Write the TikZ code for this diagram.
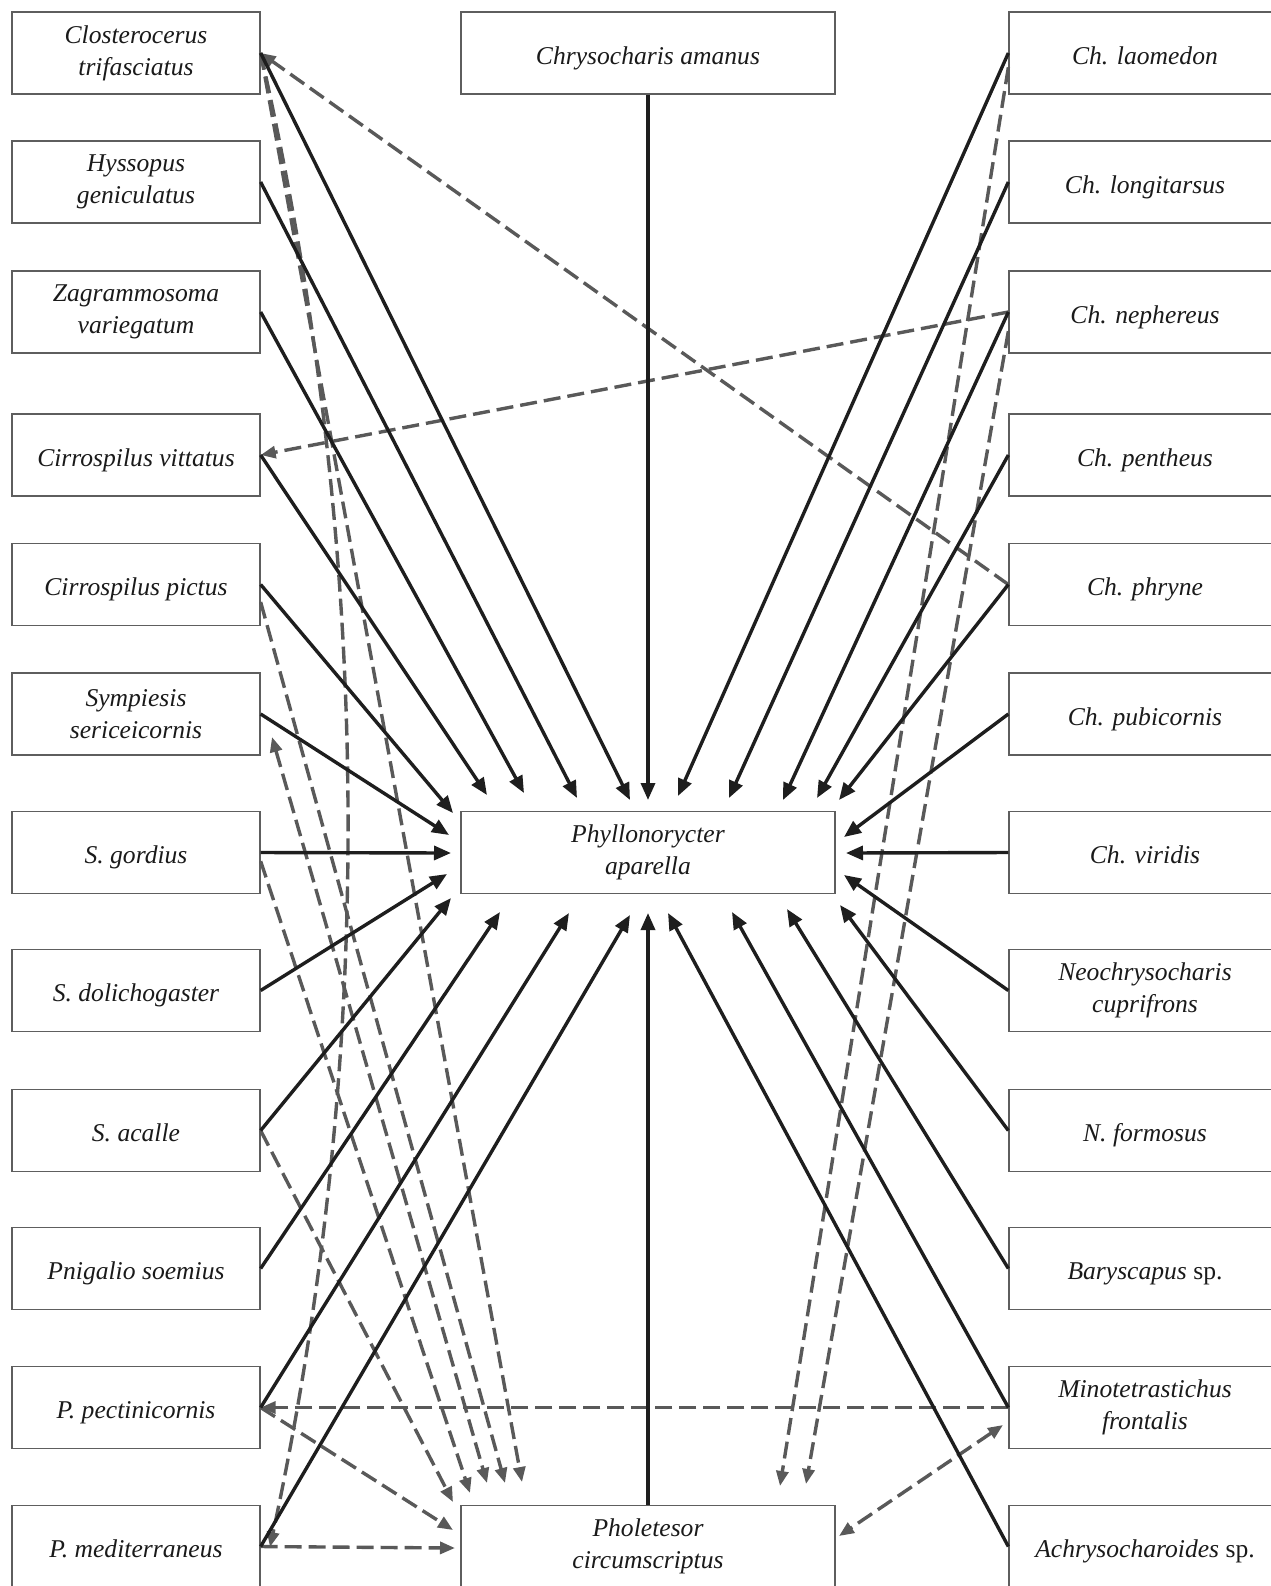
\documentclass[tikz,border=0pt]{standalone}
\usepackage{fontspec}
\setmainfont{Liberation Serif}
\usetikzlibrary{arrows.meta}

\definecolor{boxline}{HTML}{5E5E5E}
\definecolor{hostline}{HTML}{1E1E1E}
\definecolor{hyperline}{HTML}{595959}
\definecolor{labeltext}{HTML}{1A1A1A}

\tikzset{
  taxon/.style={draw=boxline, line width=0.65pt, fill=white, text=labeltext,
    minimum width=124pt, minimum height=41pt, inner sep=1pt, align=center,
    text height=11pt, text depth=0pt,
    font=\fontsize{12.8}{16}\selectfont\itshape},
  twoline/.style={text height={}, text depth={}},
  midbox/.style={taxon, minimum width=187pt},
  rightbox/.style={taxon, minimum width=136pt},
  host/.style={draw=hostline, line width=1.7pt, -{Triangle[length=8.5pt,width=7pt]}},
  hyper/.style={draw=hyperline, line width=1.7pt, dash pattern=on 8.5pt off 3.5pt,
    -{Triangle[length=7.5pt,width=6pt]}},
  hyperboth/.style={hyper, {Triangle[length=7.5pt,width=6pt]}-{Triangle[length=7.5pt,width=6pt]}},
}

\begin{document}
\begin{tikzpicture}[x=0.5pt, y=-0.5pt]
    \useasboundingbox (0,0) rectangle (1270,1586);

    % Left column of parasitoids
    \node[taxon, twoline] (clo) at (136,53) {Closterocerus\\trifasciatus};
    \node[taxon, twoline] (hys) at (136,182) {Hyssopus\\geniculatus};
    \node[taxon, twoline] (zag) at (136,312) {Zagrammosoma\\variegatum};
    \node[taxon] (cvi) at (136,455) {Cirrospilus vittatus};
    \node[taxon] (cpi) at (136,584.5) {Cirrospilus pictus};
    \node[taxon, twoline] (sse) at (136,714) {Sympiesis\\sericeicornis};
    \node[taxon] (sgo) at (136,852.5) {S. gordius};
    \node[taxon] (sdo) at (136,990.5) {S. dolichogaster};
    \node[taxon] (sac) at (136,1130.5) {S. acalle};
    \node[taxon] (pso) at (136,1268.5) {Pnigalio soemius};
    \node[taxon] (ppe) at (136,1407.5) {P. pectinicornis};
    \node[taxon] (pme) at (136,1546.5) {P. mediterraneus};

    % Middle column
    \node[midbox] (cam) at (648,53) {Chrysocharis amanus};
    \node[midbox, twoline] (aph) at (648,852.5) {Phyllonorycter\\aparella};
    \node[midbox, twoline] (pci) at (648,1546.5) {Pholetesor\\circumscriptus};

    % Right column of parasitoids
    \node[rightbox] (lao) at (1145,53) {Ch. laomedon};
    \node[rightbox] (lon) at (1145,182) {Ch. longitarsus};
    \node[rightbox] (nep) at (1145,312) {Ch. nephereus};
    \node[rightbox] (pen) at (1145,455) {Ch. pentheus};
    \node[rightbox] (phr) at (1145,584.5) {Ch. phryne};
    \node[rightbox] (pub) at (1145,714) {Ch. pubicornis};
    \node[rightbox] (vir) at (1145,852.5) {Ch. viridis};
    \node[rightbox, twoline] (neo) at (1145,990.5) {Neochrysocharis\\cuprifrons};
    \node[rightbox] (nfo) at (1145,1130.5) {N. formosus};
    \node[rightbox] (bar) at (1145,1268.5) {Baryscapus \upshape sp.};
    \node[rightbox, twoline] (min) at (1145,1407.5) {Minotetrastichus\\frontalis};
    \node[rightbox] (ach) at (1145,1546.5) {Achrysocharoides \upshape sp.};

    % Ends of the dashed links
    \foreach \n/\x/\y in {pa/453/1502, pb/470/1493, pc/487/1483, pd/505/1483,
        pe/522/1482, pf/453/1530, pg/455/1548, ph/780/1486, pi/806/1484,
        pj/839/1536, mj/1003/1425, pk/270/1547, sin/272/737}
        \coordinate (\n) at (\x,\y);

    % Hyperparasitoid links (dashed)
    \draw[hyper] (phr.west) -- (clo.east);
    \draw[hyper] (nep.west) -- (cvi.east);
    \draw[hyper] (min.west) -- (ppe.east);
    \draw[hyper] (clo.east) .. controls (373,551) and (377,1048) .. (pk);
    \draw[hyper] (clo.east) -- (pe);
    \draw[hyper] (cpi.-8) -- (pd);
    \draw[hyperboth] (sin) -- (pc);
    \draw[hyper] (sgo.-4) -- (pb);
    \draw[hyper] (sac.east) -- (pa);
    \draw[hyper] (ppe.east) -- (pf);
    \draw[hyper] (pme.east) -- (pg);
    \draw[hyper] (lao.186) -- (ph);
    \draw[hyper] (nep.188) -- (pi);
    \draw[hyperboth] (mj) -- (pj);

    % Parasitoids on the leaf miner, left side
    \foreach \s/\x/\y in {clo/630/800, hys/577/798, zag/524/793, cvi/487/795,
        cpi/453/813, sse/449/835, sgo/451/853, sdo/447/874, sac/451/898,
        pso/500/912, ppe/569/913, pme/630/915} {
        \coordinate (\s-tip) at (\x,\y);
        \draw[host] (\s.east) -- (\s-tip);
    }

    % Parasitoids on the leaf miner, right side
    \foreach \s/\x/\y in {lao/678/796, lon/729/798, nep/783/800, pen/817/798,
        phr/839/800, pub/844/837, vir/846/853, neo/844/875, nfo/840/905,
        bar/787/909, min/732/912, ach/668/913} {
        \coordinate (\s-tip) at (\x,\y);
        \draw[host] (\s.west) -- (\s-tip);
    }

    % Vertical links
    \coordinate (cam-tip) at (648,800);
    \coordinate (pci-tip) at (648,913);
    \draw[host] (cam.south) -- (cam-tip);
    \draw[host] (pci.north) -- (pci-tip);

\end{tikzpicture}
\end{document}
